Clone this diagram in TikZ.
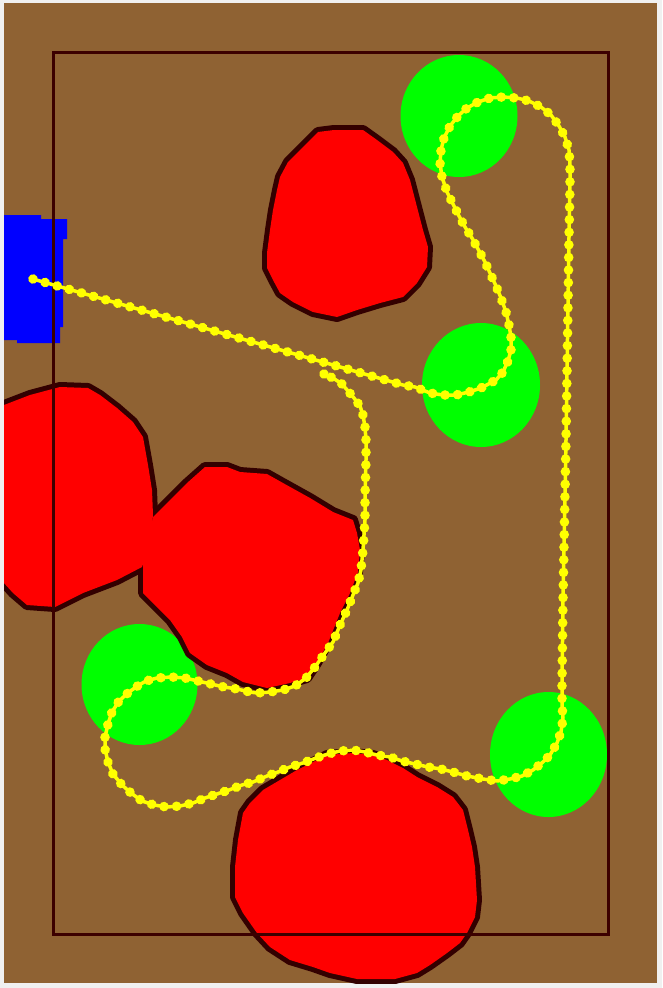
\documentclass[tikz,border=0pt]{standalone}
\usetikzlibrary{decorations.markings}
\definecolor{bgc}{HTML}{F0F0F0}
\definecolor{ground}{HTML}{8F6233}
\definecolor{rim}{HTML}{330000}
\definecolor{framec}{HTML}{3C0000}
\definecolor{goalc}{HTML}{00FF00}
\definecolor{startc}{HTML}{0000FF}
\definecolor{trailc}{HTML}{FFFF00}
\definecolor{obstc}{HTML}{FF0000}
\begin{document}
\begin{tikzpicture}[x=1pt,y=-1pt,
  obstrim/.style={draw=rim, line width=10pt, line join=round},
  obstfill/.style={fill=obstc},
  goal/.style={fill=goalc},
  startzone/.style={fill=startc},
  fieldframe/.style={draw=framec, line width=3pt},
  trail/.style={draw=trailc, line width=3.5pt, line join=round,
    postaction={decorate},
    decoration={markings,
      mark=between positions 0 and 1 step 12.6pt with {\fill[trailc] (0,0) circle (4.8pt);},
      mark=at position 1 with {\fill[trailc] (0,0) circle (4.8pt);}}}]
\path[use as bounding box] (0,0) rectangle (662,988);
\fill[bgc] (0,0) rectangle (662,988);
\fill[ground] (4,3) rectangle (657,983);
\begin{scope}
\clip (4,3) rectangle (657,983);
\def\PolyA{(334,130) -- (363,130) -- (377,140) -- (393,152) -- (403,163) -- (410,180) -- (417,207) -- (423,230) -- (428,247) -- (427,267) -- (417,283) -- (403,297) -- (380,303) -- (357,310) -- (337,317) -- (313,312) -- (293,302) -- (280,293) -- (273,280) -- (267,268) -- (267,253) -- (270,230) -- (273,210) -- (277,190) -- (280,177) -- (288,162) -- (303,147) -- (318,132) -- cycle}
\def\PolyB{(-8,408) -- (4,405) -- (30,395) -- (60,387) -- (88,388) -- (100,395) -- (117,408) -- (133,422) -- (143,437) -- (148,465) -- (152,490) -- (153,515) -- (150,545) -- (142,567) -- (117,580) -- (83,593) -- (55,607) -- (27,605) -- (13,593) -- (4,583) -- (-8,580) -- cycle}
\def\PolyC{(153,517) -- (167,503) -- (187,483) -- (205,467) -- (227,467) -- (240,472) -- (267,474) -- (283,483) -- (310,498) -- (333,512) -- (353,520) -- (357,533) -- (360,550) -- (358,572) -- (350,593) -- (340,613) -- (328,643) -- (317,663) -- (307,678) -- (290,683) -- (267,688) -- (243,682) -- (227,673) -- (207,665) -- (190,653) -- (182,637) -- (170,620) -- (157,607) -- (143,593) -- (143,562) -- cycle}
\def\PolyD{(327,755) -- (353,753) -- (373,755) -- (387,760) -- (403,768) -- (417,777) -- (437,787) -- (453,797) -- (463,810) -- (468,830) -- (472,847) -- (475,867) -- (477,900) -- (475,917) -- (467,933) -- (460,943) -- (447,953) -- (430,965) -- (417,973) -- (395,979) -- (357,979) -- (330,973) -- (313,967) -- (290,960) -- (270,947) -- (257,933) -- (243,913) -- (235,897) -- (235,867) -- (238,840) -- (243,813) -- (250,803) -- (263,790) -- (280,780) -- (297,770) -- (313,762) -- cycle}
% goal zones
\fill[goal] (459,116) ellipse [x radius=58.5pt, y radius=61pt];
\fill[goal] (481,385) ellipse [x radius=59pt, y radius=62pt];
\fill[goal] (139.5,684.5) ellipse [x radius=58pt, y radius=60.5pt];
\fill[goal] (548.5,754.5) ellipse [x radius=58.5pt, y radius=62.5pt];
% obstacles: rims first, then fills
\path[obstrim] \PolyA;
\path[obstrim] \PolyB;
\path[obstrim] \PolyC;
\path[obstrim] \PolyD;
\path[obstfill] \PolyA;
\path[obstfill] \PolyB;
\path[obstfill] \PolyC;
\path[obstfill] \PolyD;
% start zone
\fill[startzone] (4,215) -- (41,215) -- (41,219) -- (67,219) -- (67,239) -- (63,239) -- (63,327) -- (60,327) -- (60,343) -- (17,343) -- (17,340) -- (4,340) -- cycle;
% field frame
\draw[fieldframe] (53,52) rectangle (608,934);
% trail
\path[trail] (33,279) -- (403,385) -- (415,387) -- (430,393) -- (443,395) -- (456,395) -- (469,392) -- (481,388) -- (496,380) -- (503,372) -- (508,361) -- (511,350) -- (511,337) -- (509,325) -- (506,312) -- (501,298) -- (496,286) -- (490,273) -- (485,262) -- (478,249) -- (472,238) -- (465,227) -- (459,216) -- (453,204) -- (447,192) -- (442,177) -- (440,163) -- (441,150) -- (444,138) -- (450,126) -- (458,116) -- (467,108) -- (478,102) -- (490,98) -- (503,97) -- (517,98) -- (529,101) -- (541,107) -- (551,115) -- (559,126) -- (565,137) -- (569,150) -- (570,165) -- (570,185) -- (569,237) -- (566,440) -- (563,600) -- (562,682) -- (562,705) -- (563,718) -- (561,732) -- (557,743) -- (550,755) -- (543,762) -- (533,770) -- (522,776) -- (510,779) -- (497,781) -- (483,779) -- (467,776) -- (453,772) -- (441,769) -- (428,767) -- (415,764) -- (402,761) -- (390,757) -- (377,755) -- (365,752) -- (353,750) -- (340,751) -- (328,754) -- (316,758) -- (303,763) -- (290,767) -- (278,772) -- (267,776) -- (253,782) -- (242,785) -- (229,790) -- (217,794) -- (205,798) -- (193,803) -- (180,806) -- (167,807) -- (154,805) -- (142,801) -- (131,793) -- (122,785) -- (113,774) -- (108,762) -- (105,749) -- (105,737) -- (108,724) -- (112,712) -- (119,701) -- (129,692) -- (139,685) -- (146,681) -- (157,678) -- (171,677) -- (185,678) -- (198,681) -- (211,684) -- (224,687) -- (237,689) -- (250,692) -- (257,693) -- (270,692) -- (283,690) -- (295,686) -- (306,678) -- (315,667) -- (325,653) -- (333,642) -- (340,625) -- (347,610) -- (353,595) -- (358,583) -- (361,570) -- (363,550) -- (365,520) -- (365,497) -- (366,460) -- (366,440) -- (365,427) -- (363,415) -- (360,406) -- (354,398) -- (348,391) -- (342,384) -- (333,378) -- (324,374);
\end{scope}
\end{tikzpicture}
\end{document}
